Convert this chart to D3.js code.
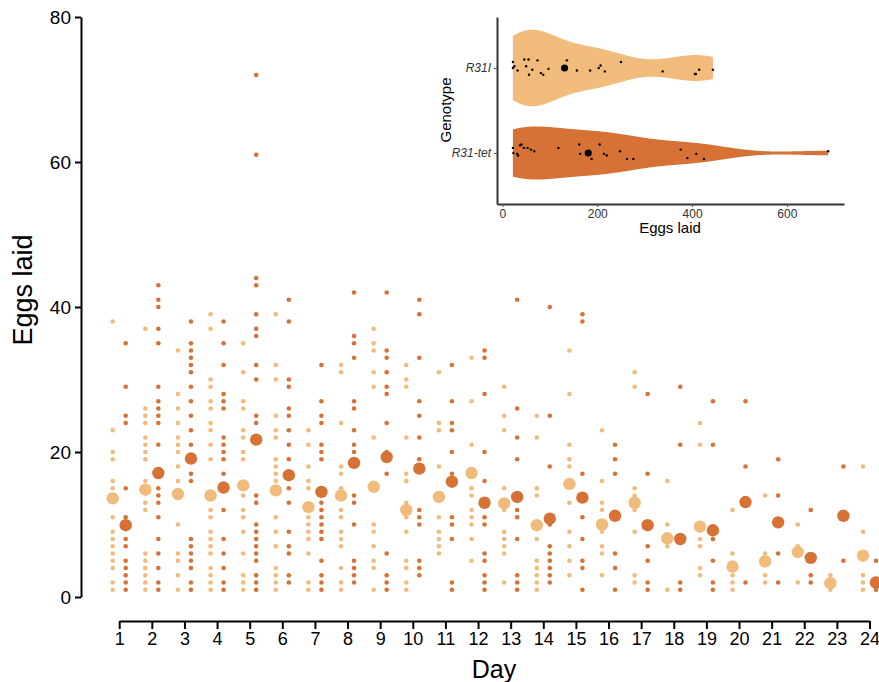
<!DOCTYPE html>
<html>
<head>
<meta charset="utf-8">
<script src="https://cdn.jsdelivr.net/npm/d3@7"></script>
<style>
  body { margin: 0; background: #fff; }
  svg text { font-family: "Liberation Sans", Arial, sans-serif; }
</style>
</head>
<body>
<svg id="chart" width="879" height="682"></svg>
<script>
// Main panel: eggs laid per fly per day, two genotypes
const days = [1, 2, 3, 4, 5, 6, 7, 8, 9, 10, 11, 12, 13, 14, 15, 16, 17, 18, 19, 20, 21, 22, 23, 24];
const yTicks = [0, 20, 40, 60, 80];

const eggsR31I = [
    [38, 23, 20, 19, 16, 15, 11, 9, 8, 7, 6, 5, 4, 2, 1],
    [37, 26, 25, 24, 22, 21, 20, 19, 16, 13, 12, 6, 5, 4, 3, 2, 1],
    [34, 28, 26, 24, 22, 21, 20, 18, 16, 10, 6, 5, 3, 1],
    [39, 37, 30, 29, 27, 26, 24, 23, 21, 19, 12, 11, 9, 8, 7, 6, 4, 3, 2, 1],
    [35, 31, 27, 26, 23, 22, 20, 19, 14, 12, 11, 9, 6, 3, 2, 1],
    [39, 32, 30, 25, 23, 22, 19, 18, 17, 16, 11, 9, 7, 4, 3, 2, 1],
    [23, 21, 18, 16, 15, 11, 10, 9, 8, 6, 2, 1],
    [32, 31, 24, 18, 17, 15, 12, 11, 9, 8, 7, 4, 2, 1],
    [37, 35, 34, 31, 29, 22, 10, 9, 7, 5, 4, 1],
    [32, 30, 29, 22, 17, 16, 13, 11, 9, 5, 4, 2, 1],
    [31, 24, 23, 18, 11, 9, 8, 7, 6],
    [33, 27, 21, 15, 14, 12, 11, 10, 8, 5],
    [29, 25, 23, 15, 12, 9, 8, 7, 6, 2],
    [25, 22, 15, 14, 8, 5, 4, 3, 2, 1],
    [34, 28, 21, 19, 18, 13, 9, 7, 5, 3],
    [23, 16, 13, 12, 9, 7, 6, 3],
    [31, 29, 15, 14, 12, 9, 3, 2],
    [16, 10, 7, 1],
    [24, 21, 8, 7, 4, 3],
    [12, 6, 3, 2, 1],
    [14, 6, 3, 2],
    [10, 7, 2],
    [3, 1],
    [18, 9, 3, 2, 1]
];

const eggsR31tet = [
    [35, 29, 25, 24, 15, 11, 8, 7, 5, 4, 3, 2, 1],
    [43, 41, 40, 37, 35, 29, 27, 26, 25, 24, 21, 15, 14, 13, 11, 8, 6, 4, 2, 1],
    [38, 35, 34, 33, 32, 31, 29, 27, 25, 23, 21, 17, 16, 8, 7, 6, 5, 4, 2, 1],
    [38, 35, 32, 28, 27, 26, 22, 21, 20, 19, 17, 12, 8, 6, 4, 2, 1],
    [72, 61, 44, 43, 39, 37, 36, 32, 30, 25, 24, 14, 13, 10, 9, 8, 7, 6, 5, 3, 2, 1],
    [41, 38, 30, 29, 26, 25, 23, 21, 19, 15, 13, 9, 7, 6, 3, 2],
    [32, 27, 25, 24, 21, 20, 19, 13, 12, 11, 10, 9, 8, 5, 3, 2, 1],
    [42, 36, 35, 33, 27, 26, 23, 21, 20, 14, 13, 10, 5, 4, 3, 2],
    [42, 34, 33, 31, 29, 28, 24, 20, 17, 6, 3, 2, 1],
    [41, 39, 33, 27, 25, 22, 19, 12, 11, 10, 5, 4, 3],
    [32, 27, 24, 23, 20, 17, 11, 10, 8, 2, 1],
    [34, 33, 28, 20, 16, 11, 10, 6, 5, 3, 2, 1],
    [41, 26, 22, 19, 12, 11, 8, 3, 2, 1],
    [40, 25, 18, 10, 7, 6, 5, 4, 3, 2],
    [39, 38, 17, 11, 8, 5, 4, 1],
    [21, 19, 17, 6, 4, 1],
    [28, 17, 7, 5, 2, 1],
    [29, 21, 2, 1],
    [27, 21, 8, 5, 2, 1],
    [27, 18, 2],
    [19, 14, 6, 2],
    [12, 3, 2],
    [18, 5],
    [5, 1]
];

const meanR31I = [13.6, 14.8, 14.2, 14.0, 15.4, 14.7, 12.4, 14.0, 15.2, 12.0, 13.8, 17.1,
                  12.9, 9.9, 15.6, 10.0, 13.0, 8.1, 9.7, 4.2, 4.9, 6.2, 1.9, 5.7];
const meanR31tet = [9.9, 17.1, 19.1, 15.1, 21.7, 16.8, 14.5, 18.5, 19.3, 17.7, 15.9, 13.0,
                    13.8, 10.8, 13.7, 11.2, 9.9, 8.0, 9.2, 13.1, 10.3, 5.4, 11.2, 2.0];

// Inset: total eggs per fly, by genotype
const genotypes = ["R31I", "R31-tet"];
const insetTicks = [0, 200, 400, 600];
const totalR31I = [22, 22, 25, 32, 46, 50, 55, 56, 63, 74, 81, 86, 97, 136, 157, 185, 203, 207, 216, 250, 338, 406, 408, 415, 444];
const jitterR31I = [-0.07, 0, -0.02, 0.03, -0.10, -0.02, -0.10, 0.08, 0.02, -0.09, 0.06, 0.08, 0.01, -0.09, 0.03, 0.03, 0, -0.03, 0.04, -0.07, 0.04, 0.07, 0.07, 0.02, 0.02];
const totalR31tet = [22, 23, 31, 33, 37, 40, 45, 53, 60, 67, 118, 162, 164, 188, 205, 214, 220, 248, 263, 276, 376, 390, 409, 425, 687];
const jitterR31tet = [-0.06, 0, 0.01, 0.03, -0.09, -0.10, -0.06, -0.06, -0.04, -0.02, -0.06, -0.10, 0.01, 0.07, -0.10, 0.01, 0.03, -0.02, 0.07, 0.07, -0.04, 0.06, 0.01, 0.07, -0.02];
const totalMean = [131, 181];

const colors = { "R31I": "#F1BB7B", "R31-tet": "#D67236" };

const svg = d3.select("#chart");
svg.append("rect").attr("width", 879).attr("height", 682).attr("fill", "#fff");

// ---------- main panel ----------
const x = d3.scaleLinear().domain([1, 24]).range([119.2, 869.5]);
const y = d3.scaleLinear().domain([0, 80]).range([597, 17]);
const offset = { "R31I": -6.5, "R31-tet": 6.5 };

const yAxis = svg.append("g")
    .attr("transform", "translate(81,0)")
    .call(d3.axisLeft(y).tickValues(yTicks).tickSize(6).tickSizeOuter(0).tickPadding(4));
yAxis.select(".domain").attr("stroke", "#000").attr("stroke-width", 2);
yAxis.selectAll(".tick line").attr("stroke", "#000").attr("stroke-width", 2);
yAxis.selectAll(".tick text").attr("font-size", 19).attr("fill", "#000");

const xAxis = svg.append("g")
    .attr("transform", "translate(0,621)")
    .call(d3.axisBottom(x).tickValues(days).tickFormat(d3.format("d")).tickSize(8).tickSizeOuter(0).tickPadding(3));
xAxis.select(".domain").attr("stroke", "#000").attr("stroke-width", 2);
xAxis.selectAll(".tick line").attr("stroke", "#000").attr("stroke-width", 2);
xAxis.selectAll(".tick text").attr("font-size", 18).attr("fill", "#000");

svg.append("text")
    .attr("transform", "translate(32,290) rotate(-90)")
    .attr("text-anchor", "middle")
    .attr("font-size", 27)
    .text("Eggs laid");

svg.append("text")
    .attr("x", 494).attr("y", 678)
    .attr("text-anchor", "middle")
    .attr("font-size", 25)
    .text("Day");

function flatten(series, geno) {
    const out = [];
    series.forEach((vals, i) => vals.forEach(v => out.push({ day: days[i], v, geno })));
    return out;
}

const pts = flatten(eggsR31I, "R31I").concat(flatten(eggsR31tet, "R31-tet"));
svg.append("g").selectAll("circle")
    .data(pts)
    .join("circle")
    .attr("cx", d => x(d.day) + offset[d.geno])
    .attr("cy", d => y(d.v))
    .attr("r", 2.3)
    .attr("fill", d => colors[d.geno]);

const means = days.map((d, i) => ({ day: d, v: meanR31I[i], geno: "R31I" }))
    .concat(days.map((d, i) => ({ day: d, v: meanR31tet[i], geno: "R31-tet" })));
svg.append("g").selectAll("circle")
    .data(means)
    .join("circle")
    .attr("cx", d => x(d.day) + offset[d.geno])
    .attr("cy", d => y(d.v))
    .attr("r", 6.2)
    .attr("fill", d => colors[d.geno]);

// ---------- inset violin ----------
const xi = d3.scaleLinear().domain([-11.5, 720.5]).range([497, 844]);
const yi = d3.scalePoint().domain(genotypes).range([17, 204]).padding(0.6);

function nrd0(v) {
    const s = v.slice().sort(d3.ascending);
    const sd = d3.deviation(s);
    const iqr = (d3.quantileSorted(s, 0.75) - d3.quantileSorted(s, 0.25)) / 1.34;
    return 0.9 * Math.min(sd, iqr) * Math.pow(s.length, -0.2);
}

function density(v) {
    const bw = nrd0(v);
    const lo = d3.min(v), hi = d3.max(v);
    const grid = d3.range(512).map(i => lo + (hi - lo) * i / 511);
    return grid.map(g => ({
        x: g,
        d: d3.mean(v, t => Math.exp(-0.5 * ((g - t) / bw) ** 2)) / (bw * Math.sqrt(2 * Math.PI))
    }));
}

const totals = { "R31I": totalR31I, "R31-tet": totalR31tet };
const jitters = { "R31I": jitterR31I, "R31-tet": jitterR31tet };
const dens = genotypes.map(g => ({ geno: g, curve: density(totals[g]) }));
const maxD = d3.max(dens, e => d3.max(e.curve, c => c.d));
const halfW = d3.scaleLinear().domain([0, maxD]).range([0, 0.45 * yi.step()]);

const inset = svg.append("g");
dens.forEach(e => {
    const cy = yi(e.geno);
    inset.append("path")
        .datum(e.curve)
        .attr("fill", colors[e.geno])
        .attr("d", d3.area()
            .x(c => xi(c.x))
            .y0(c => cy - halfW(c.d))
            .y1(c => cy + halfW(c.d)));
});

genotypes.forEach(g => {
    inset.append("g").selectAll("circle")
        .data(totals[g].map((v, i) => ({ v, j: jitters[g][i] })))
        .join("circle")
        .attr("cx", d => xi(d.v))
        .attr("cy", d => yi(g) + d.j * yi.step())
        .attr("r", 1.2)
        .attr("fill", "#000");
});

inset.append("g").selectAll("circle")
    .data(genotypes.map((g, i) => ({ g, v: totalMean[i] })))
    .join("circle")
    .attr("cx", d => xi(d.v))
    .attr("cy", d => yi(d.g))
    .attr("r", 3.6)
    .attr("fill", "#000");

const xiAxis = inset.append("g")
    .attr("transform", "translate(0,204)")
    .call(d3.axisBottom(xi).tickValues(insetTicks).tickSize(3).tickSizeOuter(0).tickPadding(2));
const yiAxis = inset.append("g")
    .attr("transform", "translate(497,0)")
    .call(d3.axisLeft(yi).tickSize(3).tickSizeOuter(0).tickPadding(3));
[xiAxis, yiAxis].forEach(a => {
    a.select(".domain").attr("stroke", "#333").attr("stroke-width", 2);
    a.selectAll(".tick line").attr("stroke", "#555").attr("stroke-width", 1);
    a.selectAll(".tick text").attr("font-size", 12).attr("fill", "#333");
});
yiAxis.selectAll(".tick text").attr("font-style", "italic");

inset.append("text")
    .attr("x", 670).attr("y", 233)
    .attr("text-anchor", "middle")
    .attr("font-size", 15)
    .text("Eggs laid");

inset.append("text")
    .attr("transform", "translate(451,110) rotate(-90)")
    .attr("text-anchor", "middle")
    .attr("font-size", 15)
    .text("Genotype");
</script>
</body>
</html>
